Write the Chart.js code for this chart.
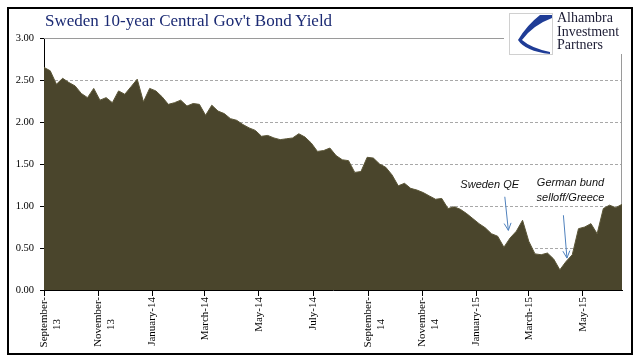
<!DOCTYPE html>
<html>
<head>
<meta charset="utf-8">
<script src="https://cdn.jsdelivr.net/npm/chart.js@4/dist/chart.umd.min.js"></script>
<style>
  body { margin: 0; background: #fff; }
  #wrap { position: relative; width: 641px; height: 361px; overflow: hidden; }
  #c { position: absolute; left: 0; top: 0; }
  .frame { position: absolute; left: 7px; top: 7px; width: 622px; height: 344px; border: 2px solid #000; pointer-events: none; }
  .title { position: absolute; left: 45px; top: 11px; font: 17px "Liberation Serif", serif; color: #1b2a73; white-space: nowrap; }
  .logo { position: absolute; left: 504px; top: 10px; width: 124px; height: 44px; background: #fff; }
  .logo svg { position: absolute; left: 5px; top: 3px; }
  .logo .name { position: absolute; left: 53px; top: 1px; font: 14px/13.5px "Liberation Serif", serif; color: #1c1c34; }
</style>
</head>
<body>
<div id="wrap">
  <canvas id="c" width="641" height="361"></canvas>
  <div class="frame"></div>
  <div class="title">Sweden 10-year Central Gov't Bond Yield</div>
  <div class="logo">
    <svg width="44" height="42" viewBox="0 0 44 42">
      <rect x="0.5" y="0.5" width="43" height="41" fill="#fff" stroke="#d0d0d0"/>
      <path d="M43,2 L31,2 Q18,12 9,27 L13,27 Q24,12 43,5 Z" fill="#1f3c96"/>
      <path d="M9,27 Q16,38 41,41 L41,39 Q22,35 13,27 Z" fill="#1f3c96"/>
    </svg>
    <div class="name">Alhambra<br>Investment<br>Partners</div>
  </div>
</div>
<script>
// weekly yields, first obs Sept 2013
const startDate = Date.UTC(2013, 8, 1);
const yields = [
  2.65, 2.61, 2.45, 2.52, 2.47, 2.43, 2.34, 2.29, 2.40, 2.26,
  2.29, 2.23, 2.37, 2.33, 2.42, 2.51, 2.24, 2.40, 2.37, 2.30,
  2.21, 2.23, 2.26, 2.19, 2.22, 2.21, 2.08, 2.20, 2.13, 2.10,
  2.04, 2.02, 1.97, 1.93, 1.90, 1.83, 1.84, 1.81, 1.79, 1.80,
  1.81, 1.86, 1.82, 1.75, 1.65, 1.66, 1.69, 1.60, 1.55, 1.54,
  1.40, 1.41, 1.58, 1.57, 1.50, 1.46, 1.37, 1.24, 1.27, 1.21,
  1.19, 1.16, 1.12, 1.08, 1.09, 0.97, 0.99, 0.96, 0.91, 0.85,
  0.79, 0.74, 0.67, 0.64, 0.51, 0.62, 0.70, 0.83, 0.58, 0.43,
  0.42, 0.44, 0.37, 0.24, 0.34, 0.42, 0.73, 0.75, 0.79, 0.67,
  0.97, 1.01, 0.98, 1.02
];

// x-axis tick months and their labels
const tickMonths = [[2013, 9], [2013, 11], [2014, 1], [2014, 3], [2014, 5], [2014, 7],
                    [2014, 9], [2014, 11], [2015, 1], [2015, 3], [2015, 5]];
const tickLabels = [['September-', '13'], ['November-', '13'], 'January-14', 'March-14', 'May-14', 'July-14',
                    ['September-', '14'], ['November-', '14'], 'January-15', 'March-15', 'May-15'];
const yTicks = [0, 0.5, 1, 1.5, 2, 2.5, 3];

// callouts, in data units (day offset, yield)
const notes = [
  { lines: ['Sweden QE'], text: [502, 1.25], from: [519, 1.11], to: [523, 0.71] },
  { lines: ['German bund', 'selloff/Greece'], text: [593, 1.27], from: [585, 0.89], to: [589, 0.38] }
];

const DAY = 86400000;
const tickDays = tickMonths.map(([y, m]) => Math.round((Date.UTC(y, m - 1, 1) - startDate) / DAY));
const points = yields.map((v, i) => ({ x: i * 7, y: v }));

const serif = size => ({ family: '"Liberation Serif", serif', size });

const extras = {
  id: 'extras',
  beforeDatasetsDraw(chart) {
    const { ctx, chartArea: a } = chart;
    ctx.save();
    ctx.strokeStyle = '#9a9a9a';
    ctx.lineWidth = 1;
    ctx.beginPath();
    ctx.moveTo(a.left, a.top + 0.5); ctx.lineTo(a.right, a.top + 0.5);
    ctx.moveTo(a.right - 0.5, a.top); ctx.lineTo(a.right - 0.5, a.bottom);
    ctx.stroke();
    ctx.restore();
  },
  afterDatasetsDraw(chart) {
    const { ctx, scales: { x, y } } = chart;
    ctx.save();
    notes.forEach(n => {
      ctx.font = 'italic 11px "Liberation Sans", sans-serif';
      ctx.fillStyle = '#111';
      ctx.textAlign = 'center';
      ctx.textBaseline = 'middle';
      const tx = x.getPixelForValue(n.text[0]);
      let ty = y.getPixelForValue(n.text[1]);
      n.lines.forEach(l => { ctx.fillText(l, tx, ty); ty += 15; });
      const x1 = x.getPixelForValue(n.from[0]), y1 = y.getPixelForValue(n.from[1]);
      const x2 = x.getPixelForValue(n.to[0]), y2 = y.getPixelForValue(n.to[1]);
      ctx.strokeStyle = '#4f81bd';
      ctx.lineWidth = 1;
      ctx.beginPath();
      ctx.moveTo(x1, y1); ctx.lineTo(x2, y2);
      const ang = Math.atan2(y2 - y1, x2 - x1);
      [0.45, -0.45].forEach(d => {
        ctx.moveTo(x2, y2);
        ctx.lineTo(x2 - 8 * Math.cos(ang + d), y2 - 8 * Math.sin(ang + d));
      });
      ctx.stroke();
    });
    ctx.restore();
  }
};

new Chart(document.getElementById('c'), {
  type: 'line',
  data: {
    datasets: [{
      data: points,
      fill: 'origin',
      backgroundColor: '#4a452c',
      borderColor: '#5a5536',
      borderWidth: 1,
      pointRadius: 0,
      tension: 0
    }]
  },
  options: {
    responsive: false,
    animation: false,
    events: [],
    layout: { padding: { top: 38, right: 19, bottom: 0, left: 0 } },
    plugins: { legend: { display: false }, tooltip: { enabled: false } },
    scales: {
      x: {
        type: 'linear',
        min: 0,
        max: (yields.length - 1) * 7,
        afterBuildTicks: s => { s.ticks = tickDays.map(v => ({ value: v })); },
        afterFit: s => { s.height = 71; },
        ticks: {
          autoSkip: false,
          minRotation: 90,
          maxRotation: 90,
          padding: 1,
          color: '#000',
          font: serif(11),
          callback: v => {
            const l = tickLabels[tickDays.indexOf(v)];
            return Array.isArray(l) ? [l[0], l[1] + '\u2002\u2002\u2002\u2002'] : l;
          }
        },
        grid: { drawOnChartArea: false, tickLength: 6, tickColor: '#000' },
        border: { color: '#000', width: 1 }
      },
      y: {
        min: 0,
        max: 3,
        afterBuildTicks: s => { s.ticks = yTicks.map(v => ({ value: v })); },
        afterFit: s => { s.width = 44; },
        ticks: {
          padding: 6,
          color: '#000',
          font: serif(10.5),
          callback: v => v.toFixed(2)
        },
        grid: {
          color: c => (c.tick && (c.tick.value === 0 || c.tick.value === 3)) ? 'rgba(0,0,0,0)' : '#a8a8a8',
          tickColor: '#000',
          tickLength: 4,
          tickBorderDash: []
        },
        border: { color: '#000', width: 1, dash: [3, 2] }
      }
    }
  },
  plugins: [extras]
});
</script>
</body>
</html>
